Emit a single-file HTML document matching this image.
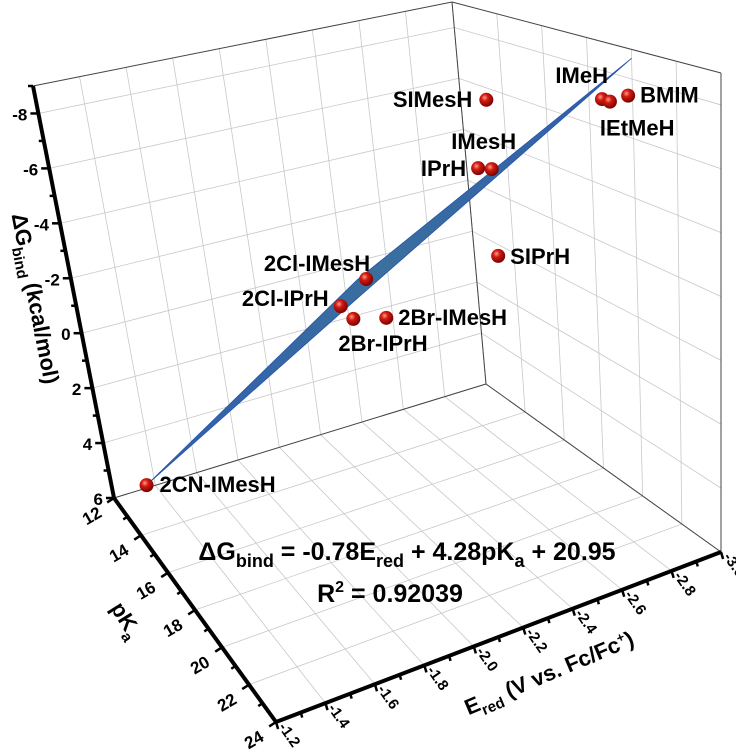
<!DOCTYPE html>
<html><head><meta charset="utf-8">
<style>
html,body{margin:0;padding:0;background:#fff;}
svg{display:block;font-family:"Liberation Sans",Arial,sans-serif;font-weight:bold;}
</style></head>
<body>
<svg id="chart" width="736" height="756" viewBox="0 0 736 756" xmlns="http://www.w3.org/2000/svg">
<defs>
<radialGradient id="ball" cx="0.38" cy="0.35" r="0.7">
<stop offset="0" stop-color="#ff9a8a"/><stop offset="0.35" stop-color="#d21a10"/><stop offset="1" stop-color="#6e0000"/>
</radialGradient>
<linearGradient id="surf" x1="0" y1="1" x2="1" y2="0">
<stop offset="0" stop-color="#2f5fae"/><stop offset="0.5" stop-color="#3a6f9e"/><stop offset="1" stop-color="#2f5cb0"/>
</linearGradient>
</defs>
<g id="grid"></g>
<g id="box"></g>
<g id="surface"></g>
<g id="points"></g>
<g id="axes"></g>
<text transform="translate(28,300) rotate(79)" text-anchor="middle" font-size="22">ΔG<tspan font-size="15" dy="6">bind</tspan><tspan dy="-6"> (kcal/mol)</tspan></text>
<text transform="translate(120,624) rotate(58)" text-anchor="middle" font-size="22">pK<tspan font-size="15" dy="6">a</tspan></text>
<text transform="translate(552,680) rotate(-23)" text-anchor="middle" font-size="22">E<tspan font-size="15" dy="6">red</tspan><tspan dy="-6"> (V vs. Fc/Fc</tspan><tspan font-size="13" dy="-8">+</tspan><tspan dy="8">)</tspan></text>
<text x="407" y="560" text-anchor="middle" font-size="25">ΔG<tspan font-size="18" dy="7">bind</tspan><tspan dy="-7"> = -0.78E</tspan><tspan font-size="18" dy="7">red</tspan><tspan dy="-7"> + 4.28pK</tspan><tspan font-size="18" dy="7">a</tspan><tspan dy="-7"> + 20.95</tspan></text>
<text x="390" y="602" text-anchor="middle" font-size="25">R<tspan font-size="16" dy="-10">2</tspan><tspan dy="10"> = 0.92039</tspan></text>
</svg>
<script>
// ---- data ----
const names = ["2CN-IMesH","SIMesH","IMesH","IPrH","IMeH","IEtMeH","BMIM","SIPrH","2Cl-IMesH","2Cl-IPrH","2Br-IPrH","2Br-IMesH"];
const eredValues = [-1.36,-2.98,-2.98,-2.964,-3.0,-3.0,-3.0,-3.0,-2.50,-2.37,-2.42,-2.57];
const pkaValues = [12.0,13.44,13.44,12.96,18.6,18.96,19.8,13.2,12.0,12.0,12.0,12.0];
const dgValues = [5.9,-5.64,-3.0,-2.9,-7.0,-7.0,-7.4,0.45,0.75,1.5,2.1,2.4];
const zTicks = [-8,-6,-4,-2,0,2,4,6];
const pkTicks = [12,14,16,18,20,22,24];
const eTicks = [-1.2,-1.4,-1.6,-1.8,-2.0,-2.2,-2.4,-2.6,-2.8,-3.0];
const surfE = [-1.36,-2.2,-3.0,-2.2];
const surfPk = [12.0,15.5,20.0,15.5];
const surfDg = [5.9,-1.45,-8.7,-0.85];

const E0=-1.2,E1=-3.0,P0=24,P1=12,Z0=6,Z1=-9;
const C={ '000':[276,722],'001':[226,202],'010':[114,498],'011':[33,86],
          '110':[486,384],'111':[452,2],'100':[721,552],'101':[721,73]};
function proj(u,v,w){let x=0,y=0;
  for(const a of [0,1])for(const b of [0,1])for(const c of [0,1]){
    const k=(a?u:1-u)*(b?v:1-v)*(c?w:1-w);const p=C[''+a+b+c];x+=k*p[0];y+=k*p[1];}
  return [x,y];}
const uE=e=>(e-E0)/(E1-E0), vP=p=>(P0-p)/(P0-P1), wZ=z=>(Z0-z)/(Z0-Z1);
function P(e,p,z){return proj(uE(e),vP(p),wZ(z));}
const NS='http://www.w3.org/2000/svg';
function mk(tag,attrs,parent){const el=document.createElementNS(NS,tag);for(const k in attrs)el.setAttribute(k,attrs[k]);parent.appendChild(el);return el;}
function line(a,b,st,sw,parent,name){const el=mk('line',{x1:a[0],y1:a[1],x2:b[0],y2:b[1],stroke:st,'stroke-width':sw},parent);
  
  
  return el;}
const G=document.getElementById('grid'),B=document.getElementById('box'),S=document.getElementById('surface'),PT=document.getElementById('points'),AX=document.getElementById('axes');
const gc='#c8c8c8';
eTicks.forEach(e=>line(P(e,P1,Z0),P(e,P1,Z1),gc,0.8,G,'grid-line-back-wall'));
zTicks.forEach(z=>line(P(E0,P1,z),P(E1,P1,z),gc,0.8,G,'grid-line-back-wall'));
pkTicks.forEach(p=>line(P(E1,p,Z0),P(E1,p,Z1),gc,0.8,G,'grid-line-right-wall'));
zTicks.forEach(z=>line(P(E1,P0,z),P(E1,P1,z),gc,0.8,G,'grid-line-right-wall'));
eTicks.forEach(e=>line(P(e,P0,Z0),P(e,P1,Z0),gc,0.8,G,'grid-line-floor'));
pkTicks.forEach(p=>line(P(E0,p,Z0),P(E1,p,Z0),gc,0.8,G,'grid-line-floor'));
const bc='#444';
line(P(E0,P1,Z1),P(E1,P1,Z1),bc,1,B,'box-edge');
line(P(E1,P1,Z0),P(E1,P1,Z1),bc,1,B,'box-edge');
line(P(E1,P1,Z1),P(E1,P0,Z1),bc,1,B,'box-edge');
line(P(E1,P0,Z0),P(E1,P0,Z1),bc,1,B,'box-edge');
line(P(E0,P1,Z0),P(E1,P1,Z0),bc,1,B,'box-edge');
line(P(E1,P1,Z0),P(E1,P0,Z0),bc,1,B,'box-edge');
const spts=surfE.map((e,i)=>P(e,surfPk[i],surfDg[i]).join(',')).join(' ');
const poly=mk('polygon',{points:spts,fill:'url(#surf)',stroke:'#2a55a8','stroke-width':0.8},S);


const lab={ "2CN-IMesH":[13,7,'start'],"SIMesH":[-14,7,'end'],"IMesH":[-8,-20,'middle'],"IPrH":[-12,8,'end'],
 "IMeH":[6,-16,'end'],"IEtMeH":[-10,34,'start'],"BMIM":[12,7,'start'],"SIPrH":[12,8,'start'],
 "2Cl-IMesH":[4,-8,'end'],"2Cl-IPrH":[-12,0,'end'],"2Br-IPrH":[-15,32,'start'],"2Br-IMesH":[12,7,'start']};
names.forEach((n,i)=>{const q=P(eredValues[i],pkaValues[i],dgValues[i]);
  const c=mk('circle',{cx:q[0],cy:q[1],r:7,fill:'url(#ball)'},PT);
  
  
  const o=lab[n];
  const t=mk('text',{x:q[0]+o[0],y:q[1]+o[1],'text-anchor':o[2],'font-size':22,fill:'#000'},PT);
  t.textContent=n;
  
  });
line(P(E0,P1,Z0),P(E0,P1,Z1),'#000',4,AX,'z-axis-line');
line(P(E0,P1,Z0),P(E0,P0,Z0),'#000',4,AX,'pka-axis-line');
line(P(E0,P0,Z0),P(E1,P0,Z0),'#000',4,AX,'ered-axis-line');
function txt(x,y,s,anchor,rot,name,fs){const t=mk('text',{transform:`translate(${x},${y}) rotate(${rot})`,'text-anchor':anchor,'font-size':fs||17},AX);
  t.textContent=s;
  
  }
for(let z=6;z>=-9;z--){const q=P(E0,P1,z);const major=zTicks.includes(z);
  line(q,[q[0]-(major?8:5),q[1]],'#000',2.5,AX,'z-tick');
  if(major)txt(q[0]-11,q[1]+7,String(z),'end',0,'z-tick-label');}
for(let p=12;p<=24;p++){const q=P(E0,p,Z0);const major=pkTicks.includes(p);const L=major?8:5;
  line(q,[q[0]-L*0.85,q[1]+L*0.55],'#000',2.5,AX,'pka-tick');
  if(major)txt(q[0]-11,q[1]+18,String(p),'end',-30,'pka-tick-label');}
for(let k=0;k<=18;k++){const e=-1.2-0.1*k;const q=P(e,P0,Z0);const major=k%2===0;const L=major?7:5;
  line(q,[q[0]+L*0.3,q[1]+L],'#000',2.5,AX,'ered-tick');
  if(major)txt(q[0]+2,q[1]+5,eTicks[k/2].toFixed(1),'start',55,'ered-tick-label',15);}
</script>
</body></html>
